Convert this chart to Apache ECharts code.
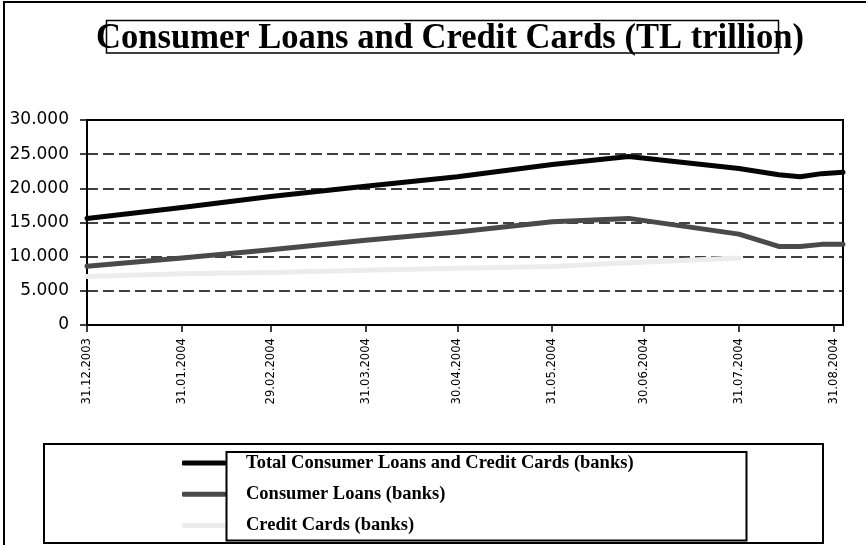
<!DOCTYPE html>
<html>
<head>
<meta charset="utf-8">
<title>Consumer Loans and Credit Cards</title>
<script src="https://cdn.jsdelivr.net/npm/echarts@6/dist/echarts.min.js"></script>
<style>
  html, body { margin: 0; padding: 0; background: #fff; }
  #chart { width: 866px; height: 545px; }
</style>
</head>
<body>
<div id="chart"></div>
<script>
// Observation dates (monthly to June, weekly in August)
const dates = ['2003-12-31', '2004-01-31', '2004-02-29', '2004-03-31', '2004-04-30', '2004-05-31',
               '2004-06-25', '2004-07-31', '2004-08-13', '2004-08-20', '2004-08-27', '2004-09-03'];
// Values in TL trillion
const totalLoans    = [15600, 17200, 18800, 20300, 21700, 23500, 24650, 22900, 22000, 21700, 22150, 22350];
const consumerLoans = [8600, 9800, 11000, 12400, 13600, 15100, 15600, 13300, 11500, 11500, 11800, 11800];
const creditCards   = [7100, 7500, 7700, 8000, 8300, 8550, 9100, 9800, null, null, null, null];
// Month-end dates shown on the horizontal axis
const tickDates = ['2003-12-31', '2004-01-31', '2004-02-29', '2004-03-31', '2004-04-30',
                   '2004-05-31', '2004-06-30', '2004-07-31', '2004-08-31'];
const seriesNames = ['Total Consumer Loans and Credit Cards (banks)', 'Consumer Loans (banks)', 'Credit Cards (banks)'];
const seriesColors = ['#050505', '#4a4a4a', '#ececec'];

function toTime(s) {
  const p = s.split('-').map(Number);
  return new Date(p[0], p[1] - 1, p[2]).getTime();
}
function pad(n) { return (n < 10 ? '0' : '') + n; }
function fmtDate(t) {
  const d = new Date(t);
  return pad(d.getDate()) + '.' + pad(d.getMonth() + 1) + '.' + d.getFullYear();
}
function fmtThousands(v) {
  if (v === 0) return '0';
  return Math.floor(v / 1000) + '.' + String(v % 1000).padStart(3, '0');
}
function pairs(values) {
  const out = [];
  values.forEach((v, i) => { if (v !== null) out.push([toTime(dates[i]), v]); });
  return out;
}

const tickTimes = tickDates.map(toTime);
const chart = echarts.init(document.getElementById('chart'), null, { renderer: 'canvas' });

chart.setOption({
  animation: false,
  backgroundColor: '#fff',
  grid: {
    left: 87, top: 120, width: 756, height: 205,
    show: true, borderColor: '#000', borderWidth: 2, backgroundColor: 'transparent'
  },
  xAxis: {
    type: 'value',
    min: toTime(dates[0]),
    max: toTime(dates[dates.length - 1]),
    axisLine: { show: true, lineStyle: { color: '#000', width: 2 } },
    axisTick: { show: true, customValues: tickTimes, length: 7, lineStyle: { color: '#000', width: 1.5 } },
    axisLabel: {
      customValues: tickTimes, rotate: 90, margin: 13,
      fontFamily: 'DejaVu Sans', fontSize: 11.6, color: '#000',
      formatter: (v) => fmtDate(v)
    },
    splitLine: { show: false },
    minorTick: { show: false }
  },
  yAxis: {
    type: 'value', min: 0, max: 30000, interval: 5000,
    axisLine: { show: true, lineStyle: { color: '#000', width: 2 } },
    axisTick: { show: true, length: 7, lineStyle: { color: '#000', width: 1.5 } },
    axisLabel: {
      margin: 18, fontFamily: 'DejaVu Sans', fontSize: 17, color: '#000',
      formatter: (v) => fmtThousands(v)
    },
    splitLine: { show: true, lineStyle: { color: '#000', width: 1.5, type: [11, 5] } }
  },
  legend: {
    orient: 'vertical', left: 182, top: 453, padding: 0,
    itemWidth: 44, itemHeight: 5, itemGap: 11.3,
    icon: 'roundRect', selectedMode: false,
    data: seriesNames,
    textStyle: {
      fontFamily: 'Liberation Serif', fontWeight: 'bold', fontSize: 18.5, color: '#000',
      lineHeight: 20, padding: [0, 0, 0, 15]
    }
  },
  series: [totalLoans, consumerLoans, creditCards].map((vals, i) => ({
    type: 'line',
    name: seriesNames[i],
    data: pairs(vals),
    showSymbol: false,
    symbol: 'none',
    color: seriesColors[i],
    lineStyle: { width: 5, color: seriesColors[i], cap: 'round', join: 'round' },
    z: 3 - i
  })),
  graphic: [
    { type: 'rect', z: 100, shape: { x: 4, y: 2, width: 900, height: 600 },
      style: { fill: null, stroke: '#000', lineWidth: 2 } },
    { type: 'text', z: 100, x: 450, y: 39, scaleX: 0.96,
      style: { text: 'Consumer Loans and Credit Cards (TL trillion)', fill: '#000',
               font: 'bold 36px "Liberation Serif"', align: 'center', verticalAlign: 'middle' } },
    { type: 'rect', z: 101, shape: { x: 106.5, y: 20.5, width: 672, height: 32.5 },
      style: { fill: null, stroke: '#000', lineWidth: 1.5 } },
    { type: 'rect', z: 100, shape: { x: 44, y: 444, width: 779, height: 99 },
      style: { fill: null, stroke: '#000', lineWidth: 2 } },
    { type: 'rect', z: 101, shape: { x: 226.5, y: 452, width: 520, height: 88.5 },
      style: { fill: null, stroke: '#000', lineWidth: 2 } }
  ]
});
</script>
</body>
</html>
